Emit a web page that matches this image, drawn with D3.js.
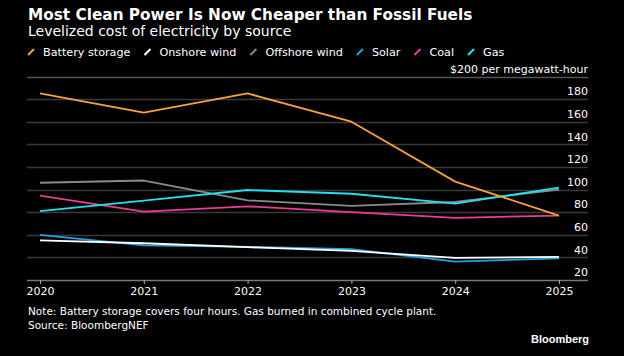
<!DOCTYPE html>
<html><head><meta charset="utf-8">
<script src="https://cdn.jsdelivr.net/npm/d3@7"></script>
<style>
html,body{margin:0;padding:0;background:#000;}
svg{display:block;}
</style></head>
<body>
<script>
const years = [2020, 2021, 2022, 2023, 2024, 2025];
const batteryStorage = [185, 168, 185, 160, 107, 77];
const onshoreWind = [55, 52.5, 49, 45.7, 39.5, 40.4];
const offshoreWind = [106, 108, 90.5, 85.5, 89, 100];
const solar = [60, 50.7, 49.3, 47.2, 36.3, 39.2];
const coal = [94.6, 80.5, 85.2, 80, 75, 77];
const gas = [81, 90.3, 99.6, 96.3, 87.5, 101.7];
const yTicks = [20, 40, 60, 80, 100, 120, 140, 160, 180, 200];
const seriesNames = ["Battery storage", "Onshore wind", "Offshore wind", "Solar", "Coal", "Gas"];
const seriesColors = ["#f7a23b", "#ffffff", "#8a8a8a", "#1fa3e3", "#ea3d94", "#22e1ee"];
const seriesValues = [batteryStorage, onshoreWind, offshoreWind, solar, coal, gas];

const W = 624, H = 356;
const svg = d3.select("body").append("svg").attr("width", W).attr("height", H);
svg.append("rect").attr("width", W).attr("height", H).attr("fill", "#000");

const F = "'DejaVu Sans', sans-serif";
const x = d3.scaleLinear().domain([2020, 2025]).range([40, 559]);
const y = d3.scaleLinear().domain([20, 200]).range([280, 76.5]);

// Title
svg.append("text").attr("x", 28).attr("y", 20).attr("fill", "#fff")
  .attr("font-family", F).attr("font-weight", "bold").attr("font-size", 15.3)
  .text("Most Clean Power Is Now Cheaper than Fossil Fuels");
svg.append("text").attr("x", 28).attr("y", 36).attr("fill", "#fff")
  .attr("font-family", F).attr("font-size", 14)
  .text("Levelized cost of electricity by source");

// Legend
const lg = svg.append("g");
let lx = 28;
seriesNames.forEach((n, i) => {
  const g = lg.append("g").attr("transform", `translate(${lx},52)`);
  g.append("line").attr("x1", 0).attr("y1", 3).attr("x2", 6).attr("y2", -3)
    .attr("stroke", seriesColors[i]).attr("stroke-width", 2);
  const t = g.append("text").attr("x", 15).attr("y", 4).attr("fill", "#fff")
    .attr("font-family", F).attr("font-size", 11.2).text(n);
  lx += 15 + t.node().getComputedTextLength() + 14;
});

// Gridlines
const grid = svg.append("g");
grid.selectAll("line").data(yTicks.filter(d => d > 20)).join("line")
  .attr("x1", 27).attr("x2", 588).attr("y1", d => Math.round(y(d)) + 0.5).attr("y2", d => Math.round(y(d)) + 0.5)
  .attr("stroke", d => d === 200 ? "#555" : "#3a3a3a").attr("stroke-width", 1.3);

// Y labels
svg.append("g").selectAll("text").data(yTicks).join("text")
  .attr("x", 588).attr("y", d => y(d) - 3.8).attr("text-anchor", "end").attr("fill", "#fff")
  .attr("font-family", F).attr("font-size", 11)
  .text(d => d === 200 ? "$200 per megawatt-hour" : d);

// X axis
const xAxis = svg.append("g").attr("transform", "translate(0,280)")
  .call(d3.axisBottom(x).tickValues(years).tickFormat(d3.format("d")).tickSize(4).tickPadding(3));
xAxis.select(".domain").attr("d", "M27,0.5H588").attr("stroke", "#777").attr("stroke-width", 1.3);
xAxis.selectAll(".tick line").attr("stroke", "#aaa");
xAxis.selectAll(".tick text").attr("fill", "#fff").attr("font-family", F).attr("font-size", 11);

// Lines
const line = d3.line().x((d, i) => x(years[i])).y(d => y(d));
const order = [2, 4, 5, 0, 3, 1];
order.forEach(i => {
  svg.append("path").datum(seriesValues[i]).attr("d", line)
    .attr("fill", "none").attr("stroke", seriesColors[i]).attr("stroke-width", 1.8)
    .attr("stroke-linejoin", "round");
});

// Footer
svg.append("text").attr("x", 28).attr("y", 315).attr("fill", "#fff")
  .attr("font-family", F).attr("font-size", 10.5)
  .text("Note: Battery storage covers four hours. Gas burned in combined cycle plant.");
svg.append("text").attr("x", 28).attr("y", 329).attr("fill", "#fff")
  .attr("font-family", F).attr("font-size", 10.5)
  .text("Source: BloombergNEF");
svg.append("text").attr("x", 589).attr("y", 343).attr("text-anchor", "end").attr("fill", "#fff")
  .attr("font-family", "'Liberation Sans', Arial, sans-serif").attr("font-weight", "bold").attr("font-size", 11)
  .text("Bloomberg");
</script>
</body></html>
